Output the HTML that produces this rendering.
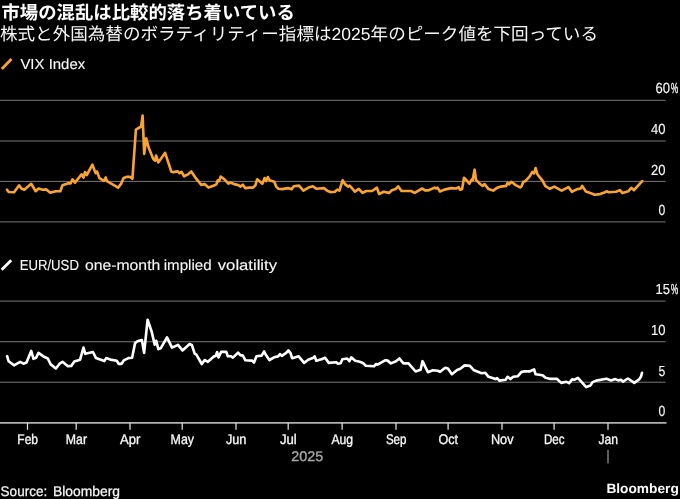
<!DOCTYPE html>
<html lang="ja">
<head>
<meta charset="utf-8">
<title>Bloomberg chart</title>
<style>
html,body{margin:0;padding:0;background:#000;}
body{width:680px;height:499px;overflow:hidden;position:relative;font-family:"Liberation Sans",sans-serif;}
</style>
</head>
<body>
<svg width="680" height="499" viewBox="0 0 680 499" style="position:absolute;left:0;top:0;display:block;will-change:transform">
<rect width="680" height="499" fill="#000"/>
<g fill="#fff"><title>市場の混乱は比較的落ち着いている</title><text x="1.5" y="19.05" font-family="'Liberation Sans', 'Noto Sans CJK JP', sans-serif" font-weight="bold" font-size="18.33" textLength="293.3" lengthAdjust="spacingAndGlyphs" text-rendering="geometricPrecision">市場の混乱は比較的落ち着いている</text></g>
<g fill="#f8f8f8"><title>株式と外国為替のボラティリティー指標は2025年のピーク値を下回っている</title><text x="0" y="40.44" font-family="'Liberation Sans', 'Noto Sans CJK JP', sans-serif" font-size="17.47" textLength="598" lengthAdjust="spacingAndGlyphs" text-rendering="geometricPrecision">株式と外国為替のボラティリティー指標は2025年のピーク値を下回っている</text></g>
<g stroke="#787878" stroke-width="1">
<line x1="0" x2="665.6" y1="100.3" y2="100.3"/>
<line x1="0" x2="665.6" y1="141.0" y2="141.0"/>
<line x1="0" x2="665.6" y1="181.4" y2="181.4"/>
<line x1="0" x2="665.6" y1="221.9" y2="221.9"/>
<line x1="0" x2="665.6" y1="301.1" y2="301.1"/>
<line x1="0" x2="665.6" y1="341.75" y2="341.75"/>
<line x1="0" x2="665.6" y1="382.2" y2="382.2"/>
</g>
<line x1="0" x2="666.5" y1="422.85" y2="422.85" stroke="#b0b0b0" stroke-width="1.9"/>
<g stroke="#e4e4e4" stroke-width="1.25">
<line x1="27.5" x2="27.5" y1="423" y2="429.8"/>
<line x1="76.2" x2="76.2" y1="423" y2="429.8"/>
<line x1="130" x2="130" y1="423" y2="429.8"/>
<line x1="182.2" x2="182.2" y1="423" y2="429.8"/>
<line x1="236" x2="236" y1="423" y2="429.8"/>
<line x1="288.2" x2="288.2" y1="423" y2="429.8"/>
<line x1="342.1" x2="342.1" y1="423" y2="429.8"/>
<line x1="396" x2="396" y1="423" y2="429.8"/>
<line x1="448.1" x2="448.1" y1="423" y2="429.8"/>
<line x1="502" x2="502" y1="423" y2="429.8"/>
<line x1="554.1" x2="554.1" y1="423" y2="429.8"/>
<line x1="608" x2="608" y1="423" y2="429.8"/>
</g>
<line x1="608" x2="608" y1="450" y2="463.2" stroke="#9a9a9a" stroke-width="1.2"/>
<polyline fill="none" stroke="#f9a333" stroke-width="2.65" stroke-linejoin="round" stroke-linecap="round" points="7,189.7 8.7,192 14.1,192.2 19.1,185.3 21.3,188.5 24.3,189.7 31.2,183.8 35.7,191.2 38.5,188.5 42.6,189.7 46.3,189.4 50,192.6 55.9,191.2 60.3,191.2 62.5,185.3 69.1,183.1 70.6,183.5 72.5,179.4 75,182.6 81.6,174.3 83.5,177.6 85,172 86.8,175 92.4,164.7 95.6,173.1 97,171.5 99.4,178.1 104,180.8 105.7,177.5 107,181.2 118.1,187.7 121.2,183.6 123.6,177.9 127.2,176.8 129.9,176.9 132.4,178.8 135.9,129.6 141.1,126.5 142.6,115.6 144.2,153.9 146.2,138.4 148.9,148.3 153.4,159.2 155.2,160.6 156.1,155.5 158.3,162.4 165.1,152.8 171.4,171.8 173.2,172.1 177.8,171.4 179.6,173.2 181.4,171.8 184.1,176.3 188.4,174.1 191.3,171.5 195,177.1 201.3,184.9 204.6,184.1 208.5,187.6 214.1,185.6 216.3,184.4 217.8,180.3 219,181.2 220.7,176.6 224.4,179.3 228.4,183.7 230.3,182.6 234,184.1 238.4,185.1 240.6,186.6 242.8,184.7 245.3,188.1 249.4,187.6 253.1,187.6 255.3,185.6 257.2,179.3 262.4,183.7 264.6,178 266.1,181 267.8,177 269.6,180.3 274.3,181.8 276.2,186.6 278.4,188.8 282.1,189.1 287.9,188.1 291.6,189.1 293.8,186.2 299,185.6 303.4,190.6 308.5,187.6 312.9,186.3 316.6,188.8 324,188.1 327.6,191 330.6,192.1 335,191.8 337.2,189.6 339.4,190.6 342.6,180.3 345.3,184.4 348.2,186.6 349.7,185.6 354.9,191.6 358.8,188.8 362.5,192.9 366.2,191 372.1,191 376.9,187.6 379.1,194 383.8,191.8 389,192.9 391.9,190.3 395.6,189.1 398.1,186.3 401.5,191 411,191 414.7,192.9 422.1,188.5 425,190.3 428.7,190.3 434.6,187.6 436,188.5 437.5,187.6 440,191.5 444.4,189.6 451,188.1 456.2,188.5 458.7,187.1 459.9,189.6 462.1,189.1 464,177.8 466.5,180.3 469.4,183.7 471.6,179.7 472.6,180.3 474.6,169.7 476,180 479,182.9 482.6,185.9 484.6,184.1 488.5,189.1 493.2,190.6 496.6,188.1 501,186.6 506.2,185.9 507.6,182.9 509.1,184.4 511.3,181.8 515.7,185.1 520.1,187.4 521.6,186.2 523.4,181.8 525.3,181.2 529.7,176.3 532.3,171.9 534.1,173.4 535.6,168 537.5,174.5 542.5,180.7 545.4,186.2 549.9,188.8 554.3,186.6 561.6,190.6 568.5,187.1 571.9,191.8 577.1,189.1 580.7,188.5 582.2,185.9 585.9,191.5 590.3,192.9 594.7,194.7 600,194.1 604.4,192.5 606.6,191.3 608.8,192.2 615.9,191.7 619.9,190.2 622.5,193.1 628.2,191.3 631.3,187.8 634,190.2 642.2,181.1"/>
<polyline fill="none" stroke="#fff" stroke-width="2.65" stroke-linejoin="round" stroke-linecap="round" points="7.1,356.2 8.6,361.2 14,365.3 20.2,361.8 23.5,363.7 26.5,362.6 31.2,350.9 33.5,358.8 36,357.8 38.5,352.9 44.1,356.8 47.8,358.5 50.7,364.4 55.9,368.5 59.6,363.7 62.5,361.8 67.9,366.2 71.3,365.9 74.3,361.5 80.1,359.7 83.5,347.5 85.3,353.8 93,352 96,358.1 104.3,361.1 106.2,358.1 110.3,359.6 116.8,360.8 118.6,363.8 121.6,363.8 123.8,360.4 128.3,358.1 132.1,357.8 135.1,343.1 137.4,341.3 141.9,340.1 144.1,352.9 147.6,319.8 151.7,331.8 154.7,344.6 156.2,340.8 158.4,349.1 160.7,348.3 167,337.4 172,347.6 178,344.9 182.5,350.4 189.6,344.1 191.8,344.9 194.7,353.7 196.2,354.4 201.8,364 204.7,360 207.9,361.8 213.8,356.6 215.6,355.9 217.1,352.2 218.5,357.4 221.2,351.8 226.3,351.8 227.8,356.3 230.7,356.2 232.9,357.6 238.1,352.6 240.3,355.1 242.9,355.6 245.4,360.3 252.1,360.6 254,362.5 256.5,356.2 261.6,355.6 264.1,351.5 265.6,354.4 269.4,360 274.1,357.3 278.1,356.4 280,354.1 281.8,355.9 286.2,352.9 288.4,350.4 290.6,353.4 292.1,358.2 298.7,356.3 304.1,362.9 308.2,359.7 313.4,357.8 314.6,356.3 316.3,360.7 321.5,359.3 325.1,357.8 328.8,362.9 336.2,362.2 337.6,363.7 340.6,363.2 342.4,359.3 347.2,358.5 349.4,361.2 351.2,357.4 355.3,360.7 359.7,361.8 362.9,362.9 365.8,365.7 374,366.3 375.9,364.1 377.6,364.6 385,360.4 387.2,360.4 390.9,363.4 396,361.2 399.4,358.5 403.4,363.4 408.5,363.4 415.6,371.5 420.6,369.7 422.5,361.2 425.4,367.1 427.9,372.2 432.8,370.3 437.9,370.7 440.1,371.8 445.3,367.8 447.9,368.5 451.9,374.2 457.1,370 460.3,368.8 464.7,365.4 469.9,365.9 473.5,369.9 481.6,373.2 485.3,372.8 488.5,376.8 495.6,379.1 497.1,378.2 499.3,380.6 505.6,379.7 507.6,376.8 510.3,379.1 513.2,376.8 517.9,376.2 521.3,372.1 524.3,371.3 530.1,371.3 534.1,369.4 535.6,374.3 542.6,375.3 545.5,377.8 549.7,378.8 556.8,378.8 561.2,382.9 566.5,381.8 569.1,383.2 572.1,379.4 574.4,379.7 577.9,377.9 586.2,387.1 590.5,385.4 592.6,382.1 596.2,380.6 606.5,378.7 611.1,380.4 615.2,379.1 618.3,380.4 620.9,379.8 623,381.6 627.9,378.5 634.3,382.9 639.4,379.1 641,376.5 642,372.9"/>
<line x1="1.8" y1="68.9" x2="11.5" y2="59.0" stroke="#f9a333" stroke-width="2.8"/>
<line x1="1.7" y1="269.7" x2="11.2" y2="260.2" stroke="#fff" stroke-width="2.8"/>
<g font-family="'Liberation Sans', sans-serif" font-size="14" fill="#f6f6f6" stroke="#f6f6f6" stroke-width="0.35" text-rendering="geometricPrecision">
<text x="20.4" y="68.8" text-anchor="start" textLength="64.8" lengthAdjust="spacingAndGlyphs" stroke-width="0.12" font-size="14.6">VIX Index</text>
<text x="19.7" y="269.5" text-anchor="start" textLength="59.2" lengthAdjust="spacingAndGlyphs" stroke-width="0.12" font-size="14.6">EUR/USD</text>
<text x="84.9" y="269.5" text-anchor="start" textLength="75.4" lengthAdjust="spacingAndGlyphs" stroke-width="0.12" font-size="14.6">one-month</text>
<text x="163.7" y="269.5" text-anchor="start" textLength="47.9" lengthAdjust="spacingAndGlyphs" stroke-width="0.12" font-size="14.6">implied</text>
<text x="217.8" y="269.5" text-anchor="start" textLength="59.2" lengthAdjust="spacingAndGlyphs" stroke-width="0.12" font-size="14.6">volatility</text>
<text x="655.4" y="93.4" text-anchor="start" textLength="14.5" lengthAdjust="spacingAndGlyphs" stroke-width="0.15" font-size="14.6">60</text>
<text x="670.9" y="93.4" text-anchor="start" textLength="7.2" lengthAdjust="spacingAndGlyphs" stroke-width="0.4" font-size="14.6">%</text>
<text x="650.9" y="134.1" text-anchor="start" textLength="14.5" lengthAdjust="spacingAndGlyphs" stroke-width="0.15" font-size="14.6">40</text>
<text x="650.9" y="174.8" text-anchor="start" textLength="14.5" lengthAdjust="spacingAndGlyphs" stroke-width="0.15" font-size="14.6">20</text>
<text x="658.6" y="215.4" text-anchor="start" textLength="6.8" lengthAdjust="spacingAndGlyphs" stroke-width="0.15" font-size="14.6">0</text>
<text x="655.4" y="294.4" text-anchor="start" textLength="14.5" lengthAdjust="spacingAndGlyphs" stroke-width="0.15" font-size="14.6">15</text>
<text x="670.9" y="294.4" text-anchor="start" textLength="7.2" lengthAdjust="spacingAndGlyphs" stroke-width="0.4" font-size="14.6">%</text>
<text x="650.9" y="335" text-anchor="start" textLength="14.5" lengthAdjust="spacingAndGlyphs" stroke-width="0.15" font-size="14.6">10</text>
<text x="658.6" y="375.6" text-anchor="start" textLength="6.8" lengthAdjust="spacingAndGlyphs" stroke-width="0.15" font-size="14.6">5</text>
<text x="658.6" y="416.4" text-anchor="start" textLength="6.8" lengthAdjust="spacingAndGlyphs" stroke-width="0.15" font-size="14.6">0</text>
<text x="17.3" y="443.6" text-anchor="start" textLength="20.7" lengthAdjust="spacingAndGlyphs">Feb</text>
<text x="65.8" y="443.6" text-anchor="start" textLength="21.2" lengthAdjust="spacingAndGlyphs">Mar</text>
<text x="120.0" y="443.6" text-anchor="start" textLength="20.3" lengthAdjust="spacingAndGlyphs">Apr</text>
<text x="170.6" y="443.6" text-anchor="start" textLength="23.5" lengthAdjust="spacingAndGlyphs">May</text>
<text x="225.9" y="443.6" text-anchor="start" textLength="20.5" lengthAdjust="spacingAndGlyphs">Jun</text>
<text x="279.9" y="443.6" text-anchor="start" textLength="16.9" lengthAdjust="spacingAndGlyphs">Jul</text>
<text x="331.5" y="443.6" text-anchor="start" textLength="21.6" lengthAdjust="spacingAndGlyphs">Aug</text>
<text x="385.9" y="443.6" text-anchor="start" textLength="20.6" lengthAdjust="spacingAndGlyphs">Sep</text>
<text x="438.5" y="443.6" text-anchor="start" textLength="19.6" lengthAdjust="spacingAndGlyphs">Oct</text>
<text x="490.9" y="443.6" text-anchor="start" textLength="22.6" lengthAdjust="spacingAndGlyphs">Nov</text>
<text x="544.0" y="443.6" text-anchor="start" textLength="20.6" lengthAdjust="spacingAndGlyphs">Dec</text>
<text x="598.5" y="443.6" text-anchor="start" textLength="19.5" lengthAdjust="spacingAndGlyphs">Jan</text>
<text x="291.2" y="460.6" text-anchor="start" textLength="32" lengthAdjust="spacingAndGlyphs" fill="#a8a8a8" stroke="#a8a8a8">2025</text>
<text x="0.6" y="495.6" text-anchor="start" textLength="46.6" lengthAdjust="spacingAndGlyphs" stroke-width="0.25">Source:</text>
<text x="53.0" y="495.6" text-anchor="start" textLength="67" lengthAdjust="spacingAndGlyphs" stroke-width="0.25">Bloomberg</text>
</g>
<text x="606.4" y="493.3" font-family="'Liberation Sans', sans-serif" font-weight="bold" font-size="13.5" fill="#fff" text-rendering="geometricPrecision" textLength="72.4" lengthAdjust="spacingAndGlyphs">Bloomberg</text>
</svg>
</body>
</html>
